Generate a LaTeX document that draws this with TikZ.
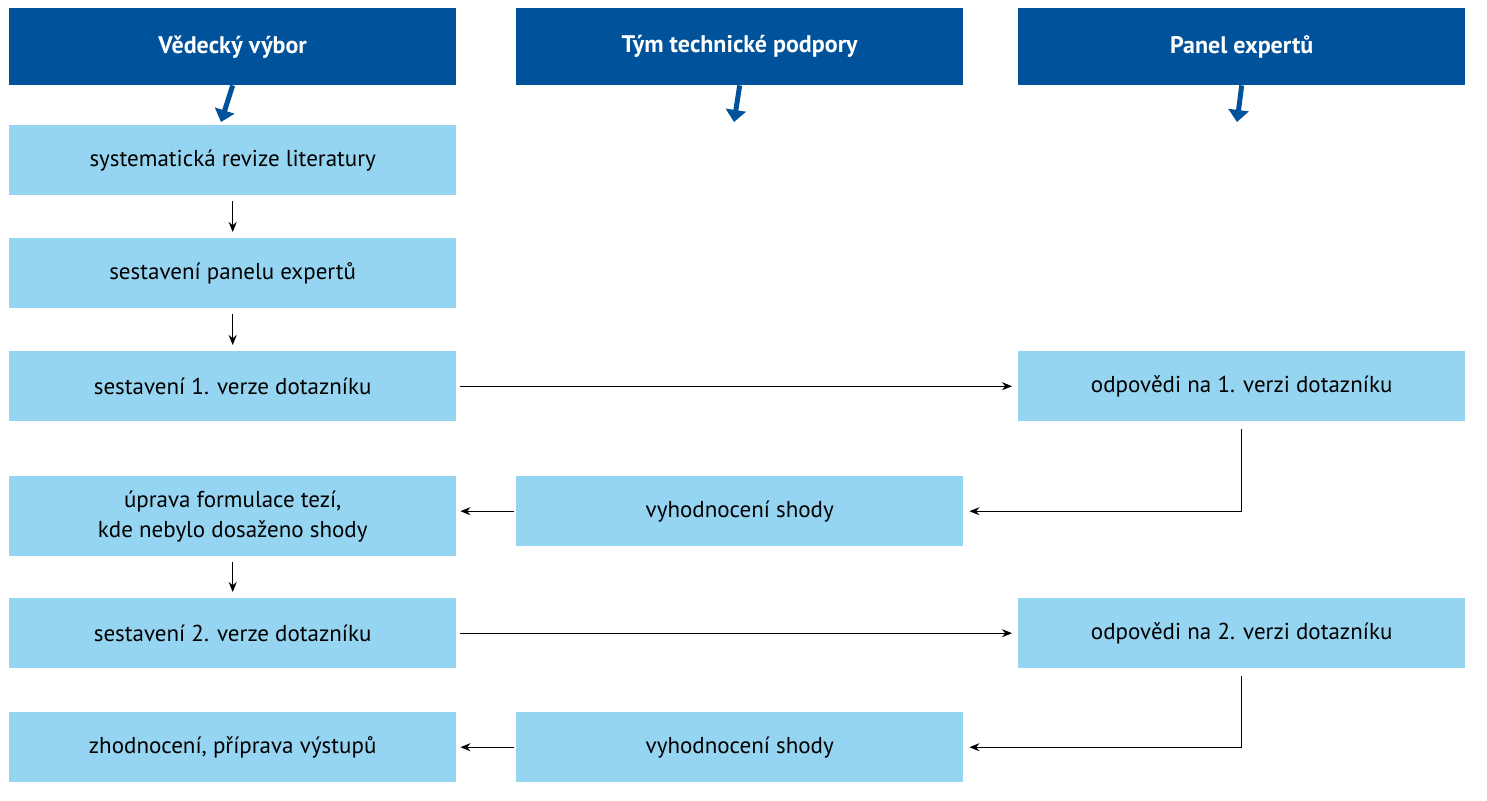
\documentclass[tikz,border=0pt]{standalone}
\usepackage{fontspec}
\setmainfont{PT Sans}
\usetikzlibrary{arrows.meta}
\definecolor{dblue}{HTML}{00529B}
\definecolor{lblue}{HTML}{96D5F1}
\begin{document}
\begin{tikzpicture}[x=1pt,y=-1pt,
 hdr/.style={fill=dblue,text=white,font=\bfseries\fontsize{24}{28}\selectfont,minimum width=447pt,minimum height=77pt,inner sep=0pt,anchor=north west},
 box/.style={fill=lblue,font=\fontsize{23}{30}\selectfont,minimum width=447pt,minimum height=70pt,inner sep=0pt,anchor=north west,align=center},
 harr/.style={dblue,line width=5pt,-{Triangle[length=12pt,width=20pt]}},
 arr/.style={black,line width=1.2pt,-{Stealth[length=10pt,width=8pt]}}]
\useasboundingbox (0,0) rectangle (1487,800);
\node[hdr] (h1) at (9,8) {Vědecký výbor};
\node[hdr] (h2) at (516,8) {Tým technické podpory};
\node[hdr] (h3) at (1018,8) {Panel expertů};
\coordinate (e1) at (221,122);
\coordinate (e2) at (734,122);
\coordinate (e3) at (1237,122);
\draw[harr] (h1.south) -- (e1);
\draw[harr] (h2.south) -- (e2);
\draw[harr] (h3.south) -- (e3);
\node[box] (a1) at (9,125) {systematická revize literatury};
\node[box] (a2) at (9,238) {sestavení panelu expertů};
\node[box] (a3) at (9,351) {sestavení 1. verze dotazníku};
\node[box,minimum height=80pt] (a4) at (9,476) {úprava formulace tezí,\\kde nebylo dosaženo shody};
\node[box] (a5) at (9,598) {sestavení 2. verze dotazníku};
\node[box] (a6) at (9,712) {zhodnocení, příprava výstupů};
\node[box] (b1) at (516,476) {vyhodnocení shody};
\node[box] (b2) at (516,712) {vyhodnocení shody};
\node[box] (c1) at (1018,351) {odpovědi na 1. verzi dotazníku};
\node[box] (c2) at (1018,598) {odpovědi na 2. verzi dotazníku};
\draw[arr] ([yshift=-6pt]a1.south) -- ([yshift=6pt]a2.north);
\draw[arr] ([yshift=-6pt]a2.south) -- ([yshift=6pt]a3.north);
\draw[arr] ([yshift=-6pt]a4.south) -- ([yshift=6pt]a5.north);
\draw[arr] ([xshift=4pt]a3.east) -- ([xshift=-6pt]c1.west);
\draw[arr] ([xshift=4pt]a5.east) -- ([xshift=-6pt]c2.west);
\draw[arr] ([yshift=-8pt]c1.south) |- ([xshift=6pt]b1.east);
\draw[arr] ([yshift=-8pt]c2.south) |- ([xshift=6pt]b2.east);
\draw[arr] ([xshift=-2pt]b1.west) -- ([xshift=4pt]b1.west -| a4.east);
\draw[arr] ([xshift=-2pt]b2.west) -- ([xshift=4pt]a6.east);
\end{tikzpicture}
\end{document}
